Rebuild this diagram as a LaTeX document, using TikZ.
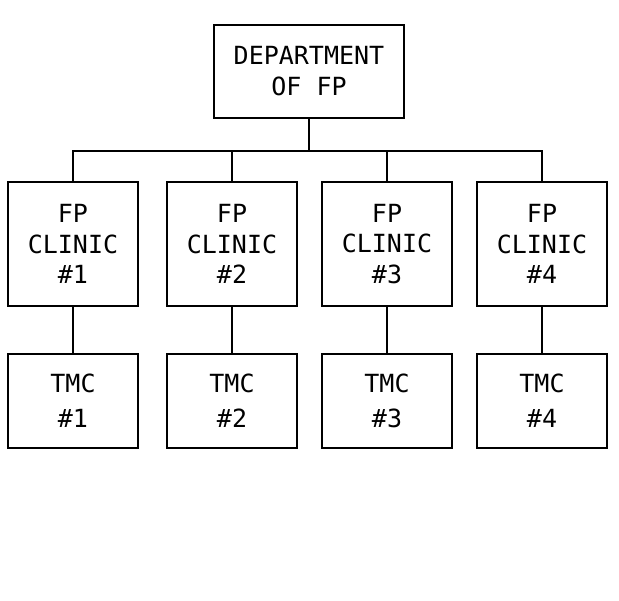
\documentclass[tikz,border=0pt]{standalone}
\usepackage{fontspec}
\setmonofont{DejaVu Sans Mono}
\usetikzlibrary{positioning}

\tikzset{
    box/.style={draw, line width=1.6pt, inner sep=0pt, align=center},
    deptbox/.style={box, minimum width=190pt, minimum height=93pt,
      font=\ttfamily\fontsize{25}{31}\selectfont},
    clinicbox/.style={box, minimum width=130pt, minimum height=124pt,
      font=\ttfamily\fontsize{25}{30.5}\selectfont},
    tmcbox/.style={box, minimum width=130pt, minimum height=94pt,
      font=\ttfamily\fontsize{25}{35}\selectfont},
    wire/.style={line width=1.6pt},
  }

\begin{document}
\begin{tikzpicture}[x=1pt, y=-1pt]
        \useasboundingbox (0,0) rectangle (619,601);
        % top
        \node[deptbox] (dept) at (309,71.5) {DEPARTMENT\\OF FP};
        \coordinate (bus) at (309,151);
        % clinics
        \node[clinicbox] (c1) at (73,244) {FP\\CLINIC\\\#1};
        \node[clinicbox] (c2) at (232,244) {FP\\CLINIC\\\#2};
        \node[clinicbox] (c3) at (387,244) {FP\\CLINIC\\\#3};
        \node[clinicbox] (c4) at (542,244) {FP\\CLINIC\\\#4};
        % treatment centres
        \node[tmcbox] (t1) at (73,401) {TMC\\\#1};
        \node[tmcbox] (t2) at (232,401) {TMC\\\#2};
        \node[tmcbox] (t3) at (387,401) {TMC\\\#3};
        \node[tmcbox] (t4) at (542,401) {TMC\\\#4};
        % lines
        \draw[wire] (dept.south) -- (bus);
        \draw[wire] (c1.north) |- (bus) -| (c4.north);
        \draw[wire] (c2.north) -- (c2.north |- bus);
        \draw[wire] (c3.north) -- (c3.north |- bus);
        \draw[wire] (c1.south) -- (t1.north);
        \draw[wire] (c2.south) -- (t2.north);
        \draw[wire] (c3.south) -- (t3.north);
        \draw[wire] (c4.south) -- (t4.north);
    \end{tikzpicture}
\end{document}
